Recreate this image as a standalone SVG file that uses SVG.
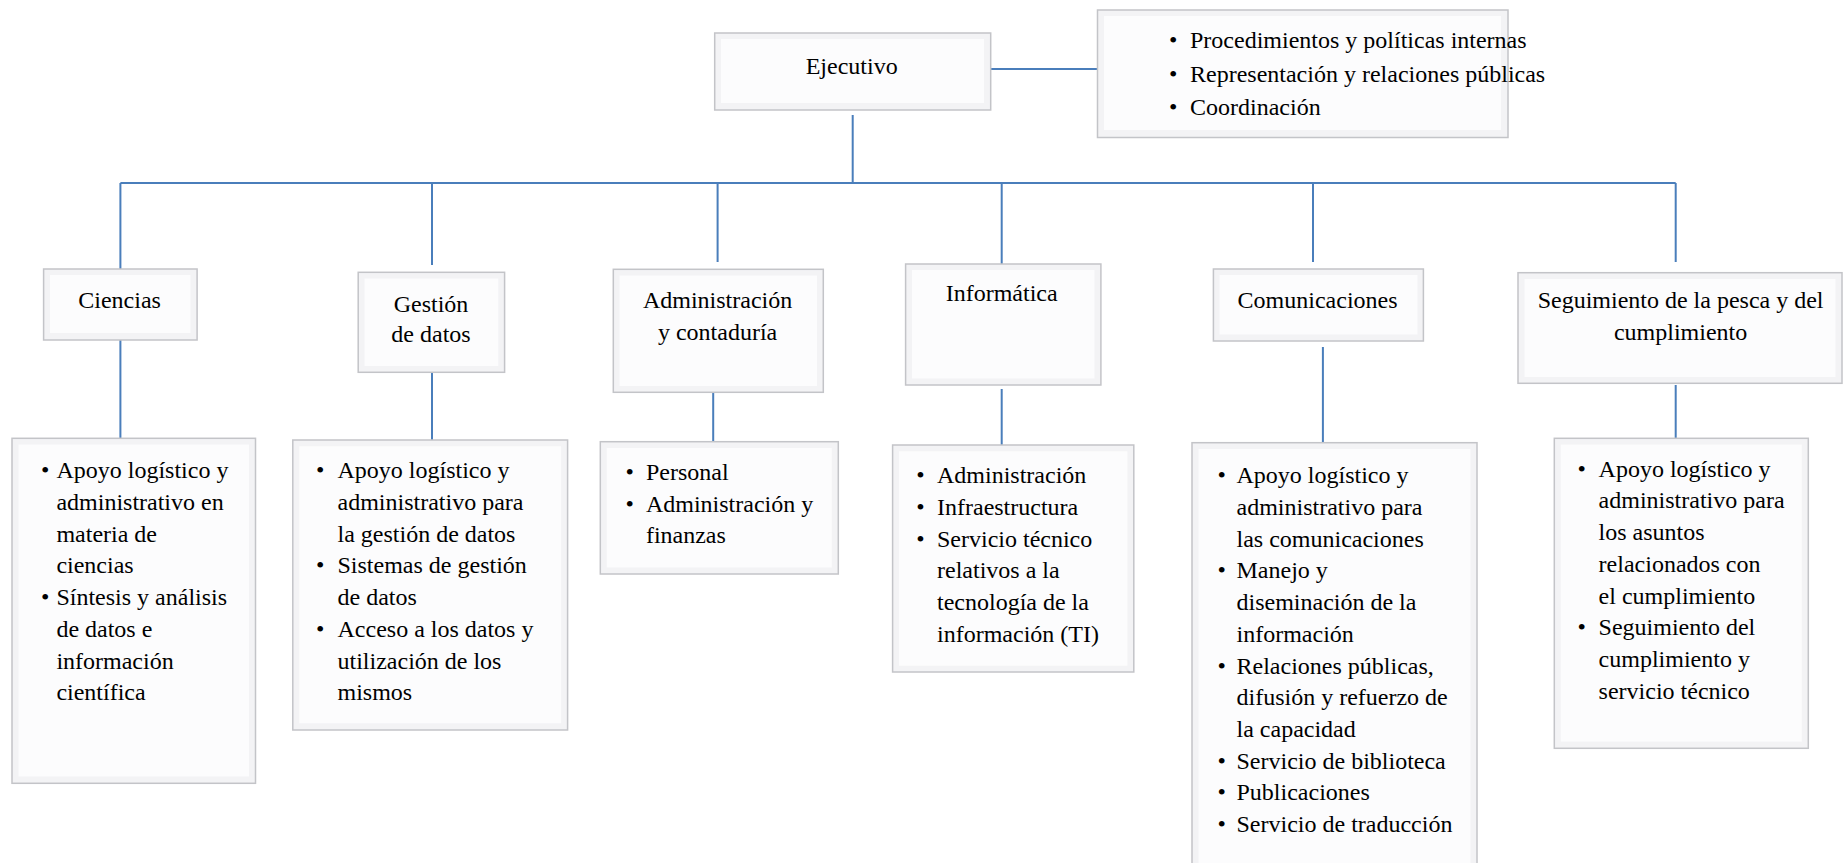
<svg xmlns="http://www.w3.org/2000/svg" width="1845" height="863" viewBox="0 0 1845 863">
<style>
.o{fill:#f3f3f5;stroke:#c3c4c8;stroke-width:1.5}
.i{fill:#fcfcfd;stroke:none}
.t{font-family:"Liberation Serif","Times New Roman",serif;font-size:24px;fill:#000}
.c{text-anchor:middle}
.ln{stroke:#4a7ebb;stroke-width:2;fill:none}
</style>
<rect width="1845" height="863" fill="#fff"/>
<g id="connectors">
<path class="ln" d="M852.7 115V183M988 69H1097.7M120.4 183H1675.7"/>
<path class="ln" d="M120.4 183V269M432 183V265M717.6 183V262M1001.7 183V264M1313 183V262M1675.7 183V262"/>
<path class="ln" d="M120.4 340V440M432 372V440M713.2 392V442M1001.7 389V445M1322.9 347V443M1675.7 385V438"/>
</g>
<g id="ejecutivo">
<rect class="o" x="714.7" y="33" width="276" height="77"/><rect class="i" x="721" y="39" width="263" height="64"/>
<text class="t c" x="851.7" y="74">Ejecutivo</text>
</g>
<g id="ejecutivo-funciones">
<rect class="o" x="1097.5" y="10" width="410.5" height="127.5"/><rect class="i" x="1104" y="16" width="397" height="114"/>
<text class="t" x="1169" y="48">•</text><text class="t" x="1190" y="48">Procedimientos y políticas internas</text>
<text class="t" x="1169" y="81.5">•</text><text class="t" x="1190" y="81.5">Representación y relaciones públicas</text>
<text class="t" x="1169" y="115">•</text><text class="t" x="1190" y="115">Coordinación</text>
</g>
<g id="ciencias">
<rect class="o" x="43.6" y="269" width="153.5" height="71"/><rect class="i" x="50" y="275" width="140.5" height="58"/>
<text class="t c" x="119.6" y="308.3">Ciencias</text>
</g>
<g id="gestion">
<rect class="o" x="358.2" y="272.3" width="146.4" height="100"/><rect class="i" x="364.5" y="278.5" width="133.8" height="87.5"/>
<text class="t c" x="431" y="311.7">Gestión</text><text class="t c" x="431" y="341.7">de datos</text>
</g>
<g id="administracion">
<rect class="o" x="613.3" y="269.3" width="210" height="123"/><rect class="i" x="619.5" y="275.5" width="197.5" height="110.5"/>
<text class="t c" x="717.6" y="308.3">Administración</text><text class="t c" x="717.6" y="340">y contaduría</text>
</g>
<g id="informatica">
<rect class="o" x="905.6" y="264" width="195.3" height="121"/><rect class="i" x="912" y="270" width="182.5" height="108.5"/>
<text class="t c" x="1001.7" y="300.7">Informática</text>
</g>
<g id="comunicaciones">
<rect class="o" x="1213.4" y="269" width="210" height="72"/><rect class="i" x="1219.5" y="275" width="198" height="59.5"/>
<text class="t c" x="1317.6" y="308.3">Comunicaciones</text>
</g>
<g id="seguimiento">
<rect class="o" x="1518" y="272.7" width="324" height="110.6"/><rect class="i" x="1524.5" y="279" width="311" height="98"/>
<text class="t c" x="1680.6" y="308.3">Seguimiento de la pesca y del</text><text class="t c" x="1680.6" y="340">cumplimiento</text>
</g>
<g id="ciencias-funciones">
<rect class="o" x="12" y="438.3" width="243.5" height="345"/><rect class="i" x="18.5" y="444.5" width="230.5" height="332"/>
<text class="t" x="41" y="478.3">•</text>
<text class="t" x="56.4" y="478.3">Apoyo logístico y</text>
<text class="t" x="56.4" y="510">administrativo en</text>
<text class="t" x="56.4" y="541.7">materia de</text>
<text class="t" x="56.4" y="573.4">ciencias</text>
<text class="t" x="41" y="605.1">•</text>
<text class="t" x="56.4" y="605.1">Síntesis y análisis</text>
<text class="t" x="56.4" y="636.8">de datos e</text>
<text class="t" x="56.4" y="668.5">información</text>
<text class="t" x="56.4" y="700.2">científica</text>
</g>
<g id="gestion-funciones">
<rect class="o" x="292.8" y="440" width="274.8" height="290"/><rect class="i" x="299.3" y="446.3" width="261.8" height="277"/>
<text class="t" x="316" y="478.3">•</text>
<text class="t" x="337.5" y="478.3">Apoyo logístico y</text>
<text class="t" x="337.5" y="510">administrativo para</text>
<text class="t" x="337.5" y="541.7">la gestión de datos</text>
<text class="t" x="316" y="573.4">•</text>
<text class="t" x="337.5" y="573.4">Sistemas de gestión</text>
<text class="t" x="337.5" y="605.1">de datos</text>
<text class="t" x="316" y="636.8">•</text>
<text class="t" x="337.5" y="636.8">Acceso a los datos y</text>
<text class="t" x="337.5" y="668.5">utilización de los</text>
<text class="t" x="337.5" y="700.2">mismos</text>
</g>
<g id="administracion-funciones">
<rect class="o" x="600.3" y="441.7" width="238" height="132.3"/><rect class="i" x="606.8" y="448" width="225" height="119.5"/>
<text class="t" x="625.5" y="480">•</text>
<text class="t" x="645.9" y="480">Personal</text>
<text class="t" x="625.5" y="511.7">•</text>
<text class="t" x="645.9" y="511.7">Administración y</text>
<text class="t" x="645.9" y="543.4">finanzas</text>
</g>
<g id="informatica-funciones">
<rect class="o" x="892.6" y="445" width="241.2" height="227"/><rect class="i" x="899" y="451.3" width="228.4" height="214.4"/>
<text class="t" x="916.3" y="483.3">•</text>
<text class="t" x="937" y="483.3">Administración</text>
<text class="t" x="916.3" y="515">•</text>
<text class="t" x="937" y="515">Infraestructura</text>
<text class="t" x="916.3" y="546.7">•</text>
<text class="t" x="937" y="546.7">Servicio técnico</text>
<text class="t" x="937" y="578.4">relativos a la</text>
<text class="t" x="937" y="610.1">tecnología de la</text>
<text class="t" x="937" y="641.8">información (TI)</text>
</g>
<g id="comunicaciones-funciones">
<rect class="o" x="1192" y="442.7" width="285" height="430"/><rect class="i" x="1198.5" y="449" width="272" height="430"/>
<text class="t" x="1217.5" y="483.3">•</text>
<text class="t" x="1236.5" y="483.3">Apoyo logístico y</text>
<text class="t" x="1236.5" y="515">administrativo para</text>
<text class="t" x="1236.5" y="546.7">las comunicaciones</text>
<text class="t" x="1217.5" y="578.4">•</text>
<text class="t" x="1236.5" y="578.4">Manejo y</text>
<text class="t" x="1236.5" y="610.1">diseminación de la</text>
<text class="t" x="1236.5" y="641.8">información</text>
<text class="t" x="1217.5" y="673.5">•</text>
<text class="t" x="1236.5" y="673.5">Relaciones públicas,</text>
<text class="t" x="1236.5" y="705.2">difusión y refuerzo de</text>
<text class="t" x="1236.5" y="736.9">la capacidad</text>
<text class="t" x="1217.5" y="768.6">•</text>
<text class="t" x="1236.5" y="768.6">Servicio de biblioteca</text>
<text class="t" x="1217.5" y="800.3">•</text>
<text class="t" x="1236.5" y="800.3">Publicaciones</text>
<text class="t" x="1217.5" y="832">•</text>
<text class="t" x="1236.5" y="832">Servicio de traducción</text>
</g>
<g id="seguimiento-funciones">
<rect class="o" x="1554.3" y="438.3" width="254" height="310"/><rect class="i" x="1560.8" y="444.6" width="241" height="297"/>
<text class="t" x="1577.5" y="476.7">•</text>
<text class="t" x="1598.6" y="476.7">Apoyo logístico y</text>
<text class="t" x="1598.6" y="508.4">administrativo para</text>
<text class="t" x="1598.6" y="540.1">los asuntos</text>
<text class="t" x="1598.6" y="571.8">relacionados con</text>
<text class="t" x="1598.6" y="603.5">el cumplimiento</text>
<text class="t" x="1577.5" y="635.2">•</text>
<text class="t" x="1598.6" y="635.2">Seguimiento del</text>
<text class="t" x="1598.6" y="666.9">cumplimiento y</text>
<text class="t" x="1598.6" y="698.6">servicio técnico</text>
</g>
</svg>
